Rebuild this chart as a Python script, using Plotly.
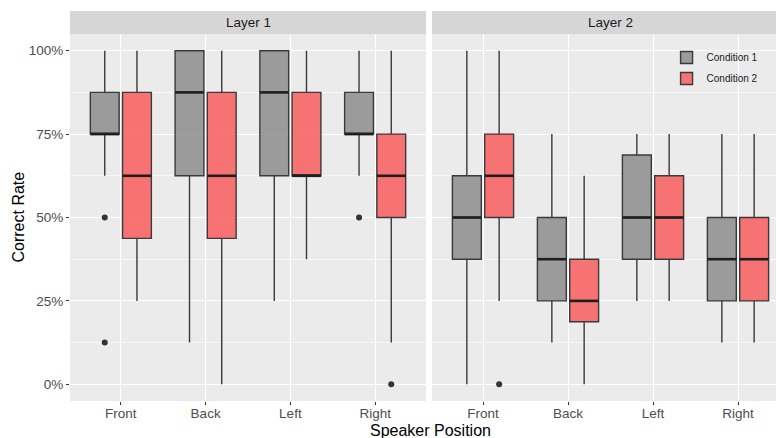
import plotly.graph_objects as go

positions = ["Front", "Back", "Left", "Right"]
layers = ["Layer 1", "Layer 2"]
conditions = ["Condition 1", "Condition 2"]

# values in fraction (0-1), per layer -> condition -> per position
lower = {
    ("Layer 1", "Condition 1"): [0.625, 0.125, 0.25, 0.625],
    ("Layer 1", "Condition 2"): [0.25, 0.0, 0.375, 0.125],
    ("Layer 2", "Condition 1"): [0.0, 0.125, 0.25, 0.125],
    ("Layer 2", "Condition 2"): [0.25, 0.0, 0.25, 0.125],
}
q1 = {
    ("Layer 1", "Condition 1"): [0.75, 0.625, 0.625, 0.75],
    ("Layer 1", "Condition 2"): [0.4375, 0.4375, 0.625, 0.5],
    ("Layer 2", "Condition 1"): [0.375, 0.25, 0.375, 0.25],
    ("Layer 2", "Condition 2"): [0.5, 0.1875, 0.375, 0.25],
}
median = {
    ("Layer 1", "Condition 1"): [0.75, 0.875, 0.875, 0.75],
    ("Layer 1", "Condition 2"): [0.625, 0.625, 0.625, 0.625],
    ("Layer 2", "Condition 1"): [0.5, 0.375, 0.5, 0.375],
    ("Layer 2", "Condition 2"): [0.625, 0.25, 0.5, 0.375],
}
q3 = {
    ("Layer 1", "Condition 1"): [0.875, 1.0, 1.0, 0.875],
    ("Layer 1", "Condition 2"): [0.875, 0.875, 0.875, 0.75],
    ("Layer 2", "Condition 1"): [0.625, 0.5, 0.6875, 0.5],
    ("Layer 2", "Condition 2"): [0.75, 0.375, 0.625, 0.5],
}
upper = {
    ("Layer 1", "Condition 1"): [1.0, 1.0, 1.0, 1.0],
    ("Layer 1", "Condition 2"): [1.0, 1.0, 1.0, 1.0],
    ("Layer 2", "Condition 1"): [1.0, 0.75, 0.75, 0.75],
    ("Layer 2", "Condition 2"): [1.0, 0.625, 0.75, 0.75],
}
# outliers: (position, value)
outliers = {
    ("Layer 1", "Condition 1"): [("Front", 0.5), ("Front", 0.125), ("Right", 0.5)],
    ("Layer 1", "Condition 2"): [("Right", 0.0)],
    ("Layer 2", "Condition 1"): [],
    ("Layer 2", "Condition 2"): [("Front", 0.0)],
}

y_tickvals = [0, 0.25, 0.5, 0.75, 1.0]
y_ticktext = ["0%", "25%", "50%", "75%", "100%"]

fills = {"Condition 1": "rgba(128,128,128,0.75)", "Condition 2": "rgba(248,98,98,0.88)"}
dodge = {"Condition 1": -0.19, "Condition 2": 0.19}
box_w = 0.34

fig = go.Figure()
for li, layer in enumerate(layers):
    xa = "x" if li == 0 else "x2"
    ya = "y" if li == 0 else "y2"
    for cond in conditions:
        key = (layer, cond)
        xs = [i + dodge[cond] for i in range(len(positions))]
        fig.add_trace(go.Box(
            x=xs, q1=q1[key], median=median[key], q3=q3[key],
            lowerfence=lower[key], upperfence=upper[key],
            width=box_w, whiskerwidth=0, boxpoints=False,
            fillcolor=fills[cond], line=dict(color="#3a3a3a", width=1.4),
            name=cond, legendgroup=cond, showlegend=(li == 1),
            xaxis=xa, yaxis=ya, hoverinfo="skip",
        ))
        # thicker median lines
        mx, my = [], []
        for x, m in zip(xs, median[key]):
            mx += [x - box_w / 2, x + box_w / 2, None]
            my += [m, m, None]
        fig.add_trace(go.Scatter(x=mx, y=my, mode="lines",
                                 line=dict(color="#1e1e1e", width=2.6),
                                 showlegend=False, xaxis=xa, yaxis=ya, hoverinfo="skip"))
        if outliers[key]:
            ox = [positions.index(p) + dodge[cond] for p, v in outliers[key]]
            oy = [v for p, v in outliers[key]]
            fig.add_trace(go.Scatter(x=ox, y=oy, mode="markers",
                                     marker=dict(color="#333333", size=6),
                                     showlegend=False, xaxis=xa, yaxis=ya, hoverinfo="skip"))

W, H = 776, 438
ml, mr, mt, mb = 70, 0, 11, 37
pw = W - ml - mr
ph = H - mt - mb
d1 = [0, 356 / pw]
d2 = [(432 - ml) / pw, 1]
ydom = [0, (401 - 34) / ph]

common_x = dict(tickvals=list(range(4)), ticktext=positions, showgrid=True,
                gridcolor="white", gridwidth=1.1, zeroline=False, ticks="outside",
                ticklen=3, tickcolor="#333333", tickfont=dict(size=13.5, color="#4d4d4d"),
                ticklabelstandoff=-3, showline=False, fixedrange=True)
common_y = dict(range=[-0.05, 1.05], tickvals=y_tickvals, ticktext=y_ticktext,
                showgrid=True, gridcolor="white", gridwidth=1.1, zeroline=False,
                minor=dict(dtick=0.125, tick0=0, showgrid=True, gridcolor="rgba(255,255,255,0.6)", gridwidth=0.6),
                domain=ydom, fixedrange=True)

fig.update_layout(
    width=W, height=H,
    margin=dict(l=ml, r=mr, t=mt, b=mb, autoexpand=False),
    paper_bgcolor="white", plot_bgcolor="#EBEBEB",
    font=dict(family="Liberation Sans, Arial, sans-serif"),
    xaxis=dict(domain=d1, range=[-0.6, 3.6], anchor="y", **common_x),
    xaxis2=dict(domain=d2, range=[-0.6, 3.447], anchor="y2", **common_x),
    yaxis=dict(anchor="x", ticks="outside", ticklen=3, tickcolor="#333333",
               tickfont=dict(size=13.5, color="#4d4d4d"), **common_y),
    yaxis2=dict(anchor="x2", showticklabels=False, ticks="", **common_y),
    legend=dict(x=0.845, y=0.918, xanchor="left", yanchor="top",
                bgcolor="rgba(0,0,0,0)", font=dict(size=10, color="#1a1a1a"),
                tracegroupgap=2, itemwidth=30),
    showlegend=True,
)

# facet strips
ytop = 1.0
ybot = ydom[1]
for dom, label, xr in [(d1, layers[0], "x"), (d2, layers[1], "x2")]:
    fig.add_shape(type="rect", xref="paper", yref="paper", x0=dom[0], x1=dom[1],
                  y0=ybot, y1=ytop, fillcolor="#D6D6D6", line=dict(width=0), layer="below")
    fig.add_annotation(x=1.5, xref=xr, y=(ybot + ytop) / 2, yref="paper",
                       text=label, showarrow=False, font=dict(size=13.5, color="#1a1a1a"),
                       yanchor="middle")

fig.add_annotation(x=(430 - ml) / pw, xref="paper", y=0, yref="paper", yshift=-29,
                   text="Speaker Position", showarrow=False, font=dict(size=16, color="black"),
                   yanchor="middle")
fig.add_annotation(x=0, xref="paper", xshift=-52, y=0.5 * ydom[1], yref="paper",
                   text="Correct Rate", textangle=-90, showarrow=False,
                   font=dict(size=16, color="black"), xanchor="center", yanchor="middle")

fig.write_html("out.html", config={"displayModeBar": False},
               post_script="document.body.style.margin='0';")
